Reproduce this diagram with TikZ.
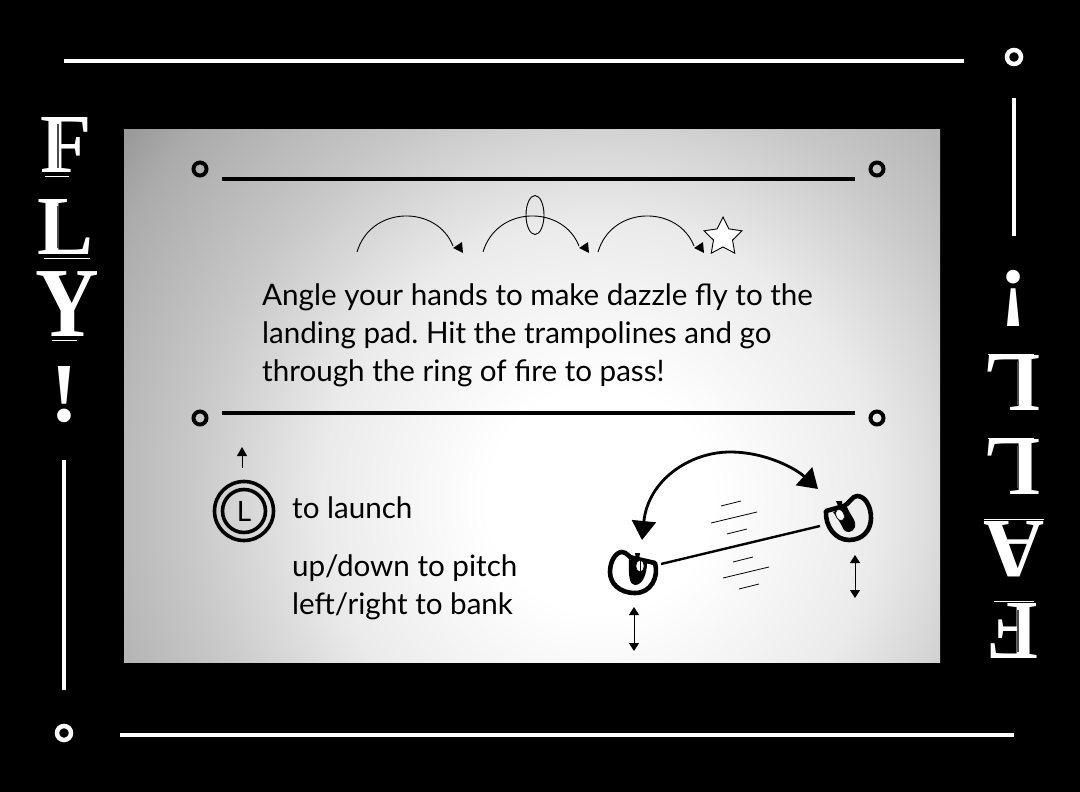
\documentclass[tikz,border=0pt]{standalone}
\usepackage{fontspec}
\usetikzlibrary{arrows.meta,shapes.geometric}
\setmainfont{Lato}
\newfontfamily\signfont{Liberation Serif}
\frenchspacing
\pgfdeclareradialshading{panelglow}{\pgfpoint{0bp}{0bp}}{%
  color(0bp)=(white); color(4.6bp)=(white); color(11.4bp)=(white!92!black);
  color(17bp)=(white!78!black); color(22.5bp)=(white!67!black);
  color(27.6bp)=(white!50!black); color(50bp)=(white!40!black)}
\tikzset{
  whiterule/.style={draw=white,line width=4pt},
  blackrule/.style={draw=black,line width=4pt},
  whitering/.style={circle,draw=white,line width=4.5pt,fill=black,minimum size=14pt,inner sep=0pt},
  blackring/.style={circle,draw=black,line width=4pt,minimum size=13pt,inner sep=0pt},
  signletter/.style={text=white,font=\signfont\bfseries\fontsize{84}{84}\selectfont,inner sep=0pt},
  bodytext/.style={text=black,inner sep=0pt,anchor=base west,font=\fontsize{29.6}{38}\selectfont},
  tiltarrow/.style={{Triangle[length=8pt,width=10pt]}-{Triangle[length=8pt,width=10pt]},line width=1pt},
  speedline/.style={line width=.8pt},
  hop/.pic={
    \draw[line width=.9pt] (0,0) .. controls (14,-47) and (80,-47) .. (96,-6);
    \fill (96,-4) -- (105,-10) -- (106,1) -- cycle;
  },
  handicona/.pic={
    \draw[line width=4.6pt,line join=round] (22,-10) .. controls (26,4) and (18,20) .. (2,20)
      .. controls (-14,20) and (-23,10) .. (-23,-1) .. controls (-23,-12) and (-17,-21) .. (-11,-21)
      .. controls (-6,-21) and (-4,-15) .. (0,-15) -- cycle;
    \fill (-4,-14) -- (14,-10) .. controls (14,0) and (10,12) .. (2,12)
      .. controls (-3,12) and (-5,4) .. (-4,-14);
    \fill (2,-20) -- (7,-20) -- (6,-14) -- (3,-14) -- cycle;
    \draw[fill=white,line width=.7pt] (7,-7) ellipse (4pt and 6pt);
    \draw[line width=.9pt] (7,-13) -- (7,-1);
  },
  handiconb/.pic={
    \draw[line width=4.6pt,line join=round] (-23,-7) .. controls (-24,8) and (-14,22) .. (0,22)
      .. controls (14,22) and (22,12) .. (22,0) .. controls (22,-12) and (16,-22) .. (8,-22)
      .. controls (3,-22) and (0,-14) .. (-5,-12) -- cycle;
    \fill (-16,-6) -- (-2,-11) .. controls (1,-3) and (8,3) .. (6,9)
      .. controls (4,15) and (-3,15) .. (-5,12) .. controls (-8,6) and (-12,-1) .. (-16,-6);
    \fill (-13,-17) -- (-7,-17) -- (-7,-12) -- (-11,-12) -- cycle;
    \draw[fill=white,line width=.7pt,rotate around={25:(-9,-3)}] (-9,-3) ellipse (4pt and 6pt);
  }
}
\begin{document}
\begin{tikzpicture}[x=1pt,y=-1pt]
  \useasboundingbox (0,0) rectangle (1080,792);
  \fill[black] (0,0) rectangle (1080,792);
  % panel
  \begin{scope}
    \clip (124,129) rectangle (940,662);
    \shade[shading=panelglow] (600,500) circle (610pt);
  \end{scope}
  % outer frame
  \node[whitering] (ringtop) at (1014,57) {};
  \node[whitering] (ringbottom) at (64,733) {};
  \coordinate (topa) at (64,61);
  \coordinate (topb) at (964,61);
  \coordinate (bottoma) at (120,735);
  \coordinate (bottomb) at (1014,735);
  \coordinate (lefta) at (64,460);
  \coordinate (leftb) at (64,690);
  \coordinate (righta) at (1014,98);
  \coordinate (rightb) at (1014,236);
  \draw[whiterule] (topa) -- (topb);
  \draw[whiterule] (bottoma) -- (bottomb);
  \draw[whiterule,line width=3.2pt] (lefta) -- (leftb);
  \draw[whiterule,line width=3.2pt] (righta) -- (rightb);
  % left and right words
  \node[signletter] (fa) at (66,145) {F};
  \node[signletter] (fb) at (66,227) {L};
  \node[signletter,xscale=1.05,yscale=1.18] (fc) at (67,304) {Y};
  \node[signletter] (fd) at (64,395) {!};
  \node[signletter,rotate=180] (ga) at (1014,298) {!};
  \node[signletter,rotate=180] (gb) at (1012,383) {L};
  \node[signletter,rotate=180] (gc) at (1012,467) {L};
  \node[signletter,rotate=180] (gd) at (1014,549) {A};
  \node[signletter,rotate=180] (ge) at (1013,631) {F};
  % shadow lines of the letters
  \foreach \xa/\ya/\xb/\yb in {45/176/69/176,44/258/90/258,52/340/77/340,988/354/1034/354,988/438/1034/438,984/519/1044/519,994/601/1034/601}
    \draw[white,line width=1pt] (\xa,\ya) -- (\xb,\yb);
  \foreach \xa/\ya/\xb/\yb in {58/124/58/168,58/206/58/248,1018/362/1018/405,1018/446/1018/488,1018/610/1018/652}
    \draw[black!70,line width=1.4pt] (\xa,\ya) -- (\xb,\yb);
  % panel rules
  \node[blackring] (ringa) at (200,169) {};
  \node[blackring] (ringb) at (877,169) {};
  \node[blackring] (ringc) at (200,418) {};
  \node[blackring] (ringd) at (877,418) {};
  \coordinate (rulea) at (222,179);
  \coordinate (ruleb) at (855,179);
  \coordinate (rulec) at (222,413);
  \coordinate (ruled) at (855,413);
  \draw[blackrule] (rulea) -- (ruleb);
  \draw[blackrule] (rulec) -- (ruled);
  % hops
  \pic at (357,252) {hop};
  \pic at (483,252) {hop};
  \pic at (598,252) {hop};
  \node[ellipse,draw,line width=.9pt,minimum width=18pt,minimum height=39pt,inner sep=0pt] (firering) at (535,215) {};
  \node[star,star points=5,star point ratio=2,draw,line width=.9pt,fill=white,minimum size=40pt,inner sep=0pt] (goalstar) at (723,237) {};
  % texts
  \node[bodytext,align=left,anchor=north west] (intro) at (262,283) {Angle your hands to make dazzle fly to the\\landing pad. Hit the trampolines and go\\through the ring of fire to pass!};
  \node[bodytext] (launch) at (292,518) {to launch};
  \node[bodytext,align=left,anchor=north west] (steer) at (292,554) {up/down to pitch\\left/right to bank};
  % stick
  \node[circle,draw,line width=3.6pt,minimum size=59pt,inner sep=0pt] (stickouter) at (244,511) {};
  \node[circle,draw,line width=3.6pt,minimum size=43pt,inner sep=0pt,font=\fontsize{28}{28}\selectfont] (stick) at (244,511) {L};
  \coordinate (stickup) at (242,447);
  \coordinate (stickfoot) at (242,468);
  \draw[-{Triangle[length=9pt,width=10pt]},line width=1pt] (stickfoot) -- (stickup);
  % hands
  \pic (handa) at (633,573) {handicona};
  \pic (handb) at (849,518) {handiconb};
  \coordinate (wirea) at (661,564);
  \coordinate (wireb) at (820,526);
  \draw[line width=2.4pt] (wirea) -- (wireb);
  \coordinate (swinga) at (642,540);
  \coordinate (swingb) at (818,489);
  \draw[{Triangle[length=19pt,width=24pt]}-{Triangle[length=19pt,width=24pt]},line width=2.8pt] (swinga) .. controls (648,480) and (690,452) .. (730,452) .. controls (765,452) and (795,468) .. (swingb);
  \foreach \xa/\ya/\xb/\yb in {721/506/741/501,711/523/757/512,727/534/747/529,733/562/753/557,723/578/769/567,739/589/759/584}
    \draw[speedline] (\xa,\ya) -- (\xb,\yb);
  \coordinate (tilta) at (634,607);
  \coordinate (tiltb) at (634,651);
  \coordinate (tiltc) at (855,555);
  \coordinate (tiltd) at (855,598);
  \draw[tiltarrow] (tilta) -- (tiltb);
  \draw[tiltarrow] (tiltc) -- (tiltd);
\end{tikzpicture}
\end{document}
